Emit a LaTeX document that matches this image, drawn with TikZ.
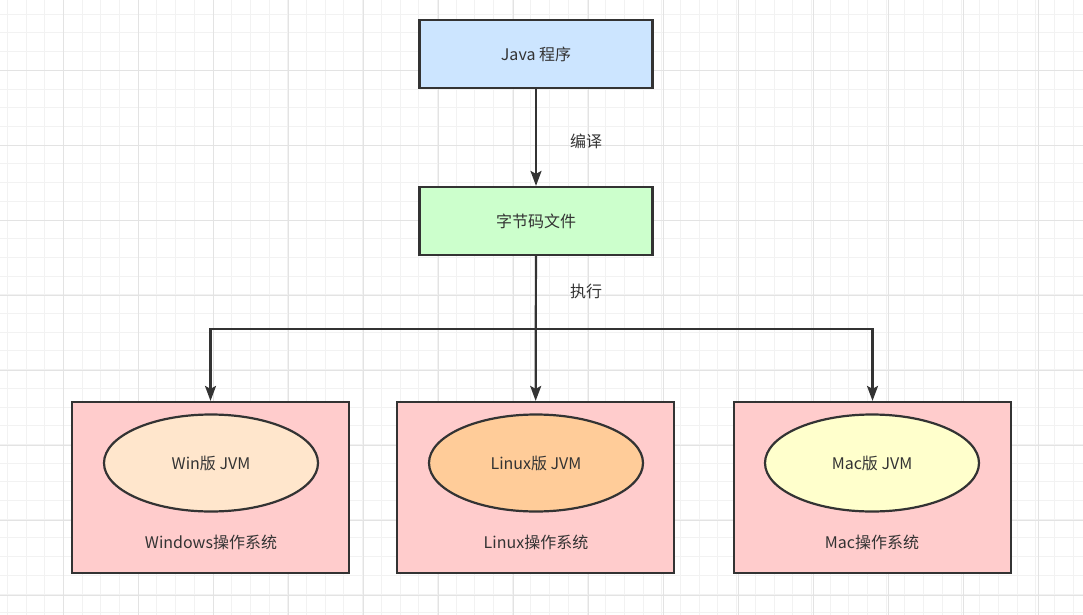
\documentclass[tikz,border=0pt]{standalone}
\usepackage{fontspec}
\setmainfont{Noto Sans CJK SC}
\usetikzlibrary{shapes.geometric,arrows.meta}
\definecolor{ink}{HTML}{333333}
\definecolor{javafill}{HTML}{CCE5FF}
\definecolor{codefill}{HTML}{CCFFCC}
\definecolor{osfill}{HTML}{FFCCCC}
\definecolor{winfill}{HTML}{FFE6CC}
\definecolor{linfill}{HTML}{FFCC99}
\definecolor{macfill}{HTML}{FFFFCC}
\definecolor{gridminor}{HTML}{F2F2F2}
\definecolor{gridmajor}{HTML}{E3E3E3}

\begin{document}
\begin{tikzpicture}[x=1pt,y=-1pt,
  font=\fontsize{16}{19}\selectfont, text=ink,
  box/.style={rectangle,draw=ink,line width=2.2pt,minimum width=233pt,minimum height=68pt},
  osbox/.style={rectangle,draw=ink,line width=2.2pt,fill=osfill,minimum width=277pt,minimum height=171pt},
  jvm/.style={ellipse,draw=ink,line width=2.2pt,minimum width=214pt,minimum height=97pt},
  arr/.style={draw=ink,line width=2.2pt,-{Stealth[length=15pt,width=11pt,inset=3pt]}}]
  \useasboundingbox (0,0) rectangle (1083,615);
  % background grid
  \foreach \x in {7.3,26,...,1083} \draw[gridminor,line width=1pt] (\x,0) -- (\x,615);
  \foreach \y in {14.3,33,...,615} \draw[gridminor,line width=1pt] (0,\y) -- (1083,\y);
  \foreach \x in {63.7,138.7,...,1083} \draw[gridmajor,line width=1pt] (\x,0) -- (\x,615);
  \foreach \y in {70.3,145.3,...,615} \draw[gridmajor,line width=1pt] (0,\y) -- (1083,\y);

  \node[box,fill=javafill] (1) at (536,54) {Java 程序}; % source
  \node[box,fill=codefill] (2) at (536,221) {字节码文件}; % bytecode
  \node[osbox] (3) at (210.5,487.5) {}; % Windows
  \node[osbox] (4) at (535.5,487.5) {}; % Linux
  \node[osbox] (5) at (872.5,487.5) {}; % Mac
  \node[jvm,fill=winfill] (6) at (211,463) {Win版 JVM};
  \node[jvm,fill=linfill] (7) at (536,463) {Linux版 JVM};
  \node[jvm,fill=macfill] (8) at (872,463) {Mac版 JVM};

  \node at (211,542) {Windows操作系统};
  \node at (536,542) {Linux操作系统};
  \node at (872,542) {Mac操作系统};
  \node at (586,141) {编译};
  \node at (586,291) {执行};

  \coordinate (split) at (536,329);
  \draw[arr] (1) -- (2);
  \draw[arr] (2) -- (split) -| (3.north);
  \draw[arr] (2) -- (4);
  \draw[arr] (2) -- (split) -| (5.north);
\end{tikzpicture}
\end{document}
